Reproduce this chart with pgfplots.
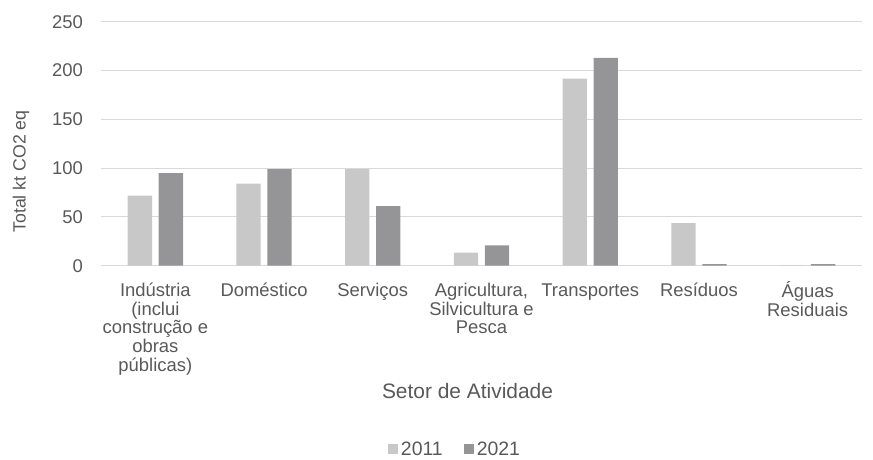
\documentclass[border=0pt]{standalone}
\usepackage{pgfplots}
\pgfplotsset{compat=1.18}
\usepackage{fontspec}
\setmainfont{Liberation Sans}
\definecolor{txt}{HTML}{595959}
\definecolor{grd}{HTML}{D9D9D9}
\definecolor{cA}{HTML}{C8C8C9}
\definecolor{cB}{HTML}{959597}
\begin{document}
\begin{tikzpicture}
\path[use as bounding box] (-101bp,-194.3bp) rectangle (772bp,265.7bp);
\begin{axis}[
  at={(0,0)}, anchor=south west,
  scale only axis, width=761bp, height=244bp,
  ybar=6.7bp, bar width=24.3bp,
  xmin=-0.5, xmax=6.5, ymin=0, ymax=250,
  ytick={0,50,...,250},
  xtick={0,...,6},
  xticklabels={
    {\rule{0pt}{15bp}Indústria\\(inclui\\construção e\\obras\\públicas)},
    {\rule{0pt}{15bp}Doméstico},
    {\rule{0pt}{15bp}Serviços},
    {\rule{0pt}{15bp}Agricultura,\\Silvicultura e\\Pesca},
    {\rule{0pt}{15bp}Transportes},
    {\rule{0pt}{15bp}Resíduos},
    {\rule{0pt}{15bp}Águas\\Residuais}},
  /pgf/number format/assume math mode=true,
  major tick length=0pt,
  axis line style={draw=none},
  ymajorgrids, grid style={grd, line width=0.9bp},
  tick label style={font=\fontsize{18.5}{18.6}\selectfont, text=txt},
  xticklabel style={anchor=north, align=center, inner sep=0pt, yshift=-16bp},
  yticklabel style={anchor=east, inner sep=0pt, xshift=-18bp},
  xlabel={Setor de Atividade},
  xlabel style={at={(axis description cs:0.4816,0)}, anchor=base, yshift=-132.6bp, font=\fontsize{21}{22}\selectfont, text=txt, inner sep=0pt},
  ylabel={Total kt CO2 eq},
  ylabel style={at={(axis description cs:-0.1051,0.386)}, anchor=center, font=\fontsize{17.8}{20}\selectfont, text=txt, inner sep=0pt},
  legend columns=2,
  legend style={at={(axis description cs:0.4658,0)}, anchor=center, yshift=-183.3bp,
    draw=none, fill=none, font=\fontsize{19.5}{20}\selectfont, text=txt,
    inner sep=0pt, nodes={inner sep=2.5bp}, /tikz/column 2/.style={column sep=19bp}},
  legend image code/.code={\fill[#1] (0bp,-5bp) rectangle (10bp,5bp);},
]
\addplot[fill=cA, draw=none] coordinates {(0,71.7) (1,84) (2,99) (3,13.5) (4,191.8) (5,43.6) (6,0.4)};
\addplot[fill=cB, draw=none] coordinates {(0,94.9) (1,99) (2,61) (3,20.7) (4,212.9) (5,1.7) (6,1.7)};
\legend{2011,2021}
\end{axis}
\end{tikzpicture}
\end{document}
